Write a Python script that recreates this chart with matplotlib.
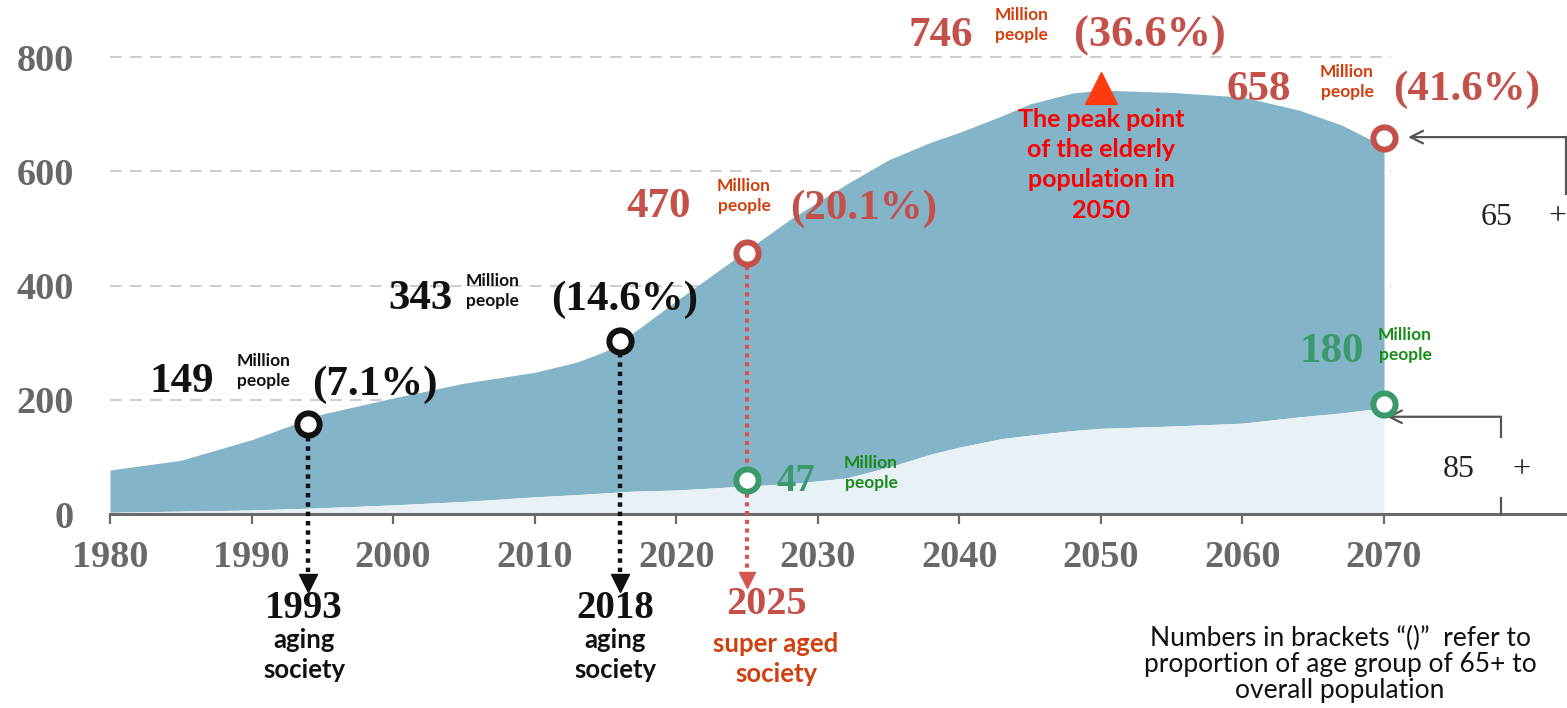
import matplotlib
matplotlib.use("Agg")
import matplotlib.pyplot as plt

# ---------------- data ----------------
years = [1980, 1985, 1990, 1995, 2000, 2005, 2010, 2013, 2015, 2017, 2020,
         2025, 2028, 2032, 2035, 2038, 2040, 2043, 2045, 2048, 2050, 2055,
         2060, 2064, 2067, 2069, 2070]
pop_65 = [77, 94, 130, 175, 203, 229, 248, 266, 285, 318, 373,
          462, 515, 577, 620, 651, 668, 697, 718, 737, 742, 738,
          730, 707, 681, 656, 634]
pop_85 = [3, 5, 7, 11, 16, 22, 30, 34, 37, 40, 42,
          49, 53, 63, 82, 105, 117, 132, 138, 146, 150, 154,
          159, 170, 177, 183, 185]

x_ticks = [1980, 1990, 2000, 2010, 2020, 2030, 2040, 2050, 2060, 2070]
y_ticks = [0, 200, 400, 600, 800]

aging_pos_year = [1994, 2016]
aging_pos_val = [157, 303]
aging_value_labels = ["149", "343"]
aging_pct_labels = ["(7.1%)", "(14.6%)"]
aging_event_years = ["1993", "2018"]

super_year = 2025
super_val65 = 457
super_val85 = 59
super_value_label = "470"
super_pct_label = "(20.1%)"
super_85_label = "47"

peak_year = 2050
peak_val = 746
peak_pct_label = "(36.6%)"

end_year = 2070
end_val65 = 658
end_val85 = 193
end_pct_label = "(41.6%)"
end_85_label = "180"

# ---------------- style ----------------
SERIF = "Liberation Serif"
SANS = "Lato"
C_TOP = "#84b4c8"
C_LOW = "#e8f1f5"
C_BLACK = "#111111"
C_RED = "#c4504a"
C_ORANGE = "#d0400e"
C_GREEN = "#3a9a6c"
C_GREEN2 = "#1a8c1a"
C_AXIS = "#6a6a6a"

fig = plt.figure(figsize=(15.67, 7.08), dpi=100)
ax = fig.add_axes([110 / 1567, (708 - 514) / 708, 1457 / 1567, 514 / 708])
ax.set_xlim(1980, 1980 + 1457 / 14.156)
ax.set_ylim(0, 514 / 0.57125)

for s in ["left", "top", "right"]:
    ax.spines[s].set_visible(False)
ax.spines["bottom"].set_color(C_AXIS)
ax.spines["bottom"].set_linewidth(2.2)
ax.spines["bottom"].set_zorder(3)

ax.hlines(y_ticks[1:], 1980, 2070.5, colors="#c4c4c4", linewidth=1.2,
          linestyles=(0, (7, 5)), zorder=0.5)

ax.fill_between(years, pop_85, pop_65, color=C_TOP, linewidth=0, zorder=1)
ax.fill_between(years, 0, pop_85, color=C_LOW, linewidth=0, zorder=1)

ax.set_xticks(x_ticks)
ax.set_yticks(y_ticks)
ax.set_xticklabels([str(v) for v in x_ticks])
ax.set_yticklabels([str(v) for v in y_ticks])
ax.tick_params(axis="x", length=7, width=1.6, color=C_AXIS, pad=12)
ax.tick_params(axis="y", length=0, pad=26)
for lab_ in ax.get_xticklabels() + ax.get_yticklabels():
    lab_.set_fontfamily(SERIF)
    lab_.set_fontweight("bold")
    lab_.set_fontsize(27.5)
    lab_.set_color("#686868")


def txt(x, y, dx, dy, s, **kw):
    kw.setdefault("ha", "center")
    kw.setdefault("va", "center")
    ax.annotate(s, (x, y), xytext=(dx, dy), textcoords="offset pixels",
                annotation_clip=False, zorder=6, **kw)


big = dict(family=SERIF, fontweight="bold", fontsize=31)
mp = dict(family=SANS, fontweight="bold", fontsize=12.5, linespacing=1.3)
ring = dict(marker="o", markersize=16, markeredgewidth=4.3,
            markerfacecolor="white", linestyle="none", zorder=5, clip_on=False)
GREY = "#555555"

# ---- aging society milestones (black) ----
for i, (yr, v) in enumerate(zip(aging_pos_year, aging_pos_val)):
    ax.plot([yr, yr], [v - 22, -108], color=C_BLACK, linewidth=3.2,
            linestyle=(0, (1, 1.1)), zorder=4, clip_on=False)
    ax.plot([yr], [-121], marker="v", markersize=13, color=C_BLACK,
            linestyle="none", zorder=4, clip_on=False)
    ax.plot([yr], [v], markeredgecolor=C_BLACK, **ring)
    txt(yr, 0, -4, -94, aging_event_years[i], color=C_BLACK,
        family=SERIF, fontweight="bold", fontsize=28)
    txt(yr, 0, -4, -141, "aging\nsociety", color=C_BLACK, family=SANS,
        fontweight="bold", fontsize=18.5, linespacing=1.3)

# 149
txt(aging_pos_year[0], aging_pos_val[0], -126, 42, aging_value_labels[0], color=C_BLACK, **big)
txt(aging_pos_year[0], aging_pos_val[0], -45, 53, "Million\npeople", color=C_BLACK, **mp)
txt(aging_pos_year[0], aging_pos_val[0], 67, 40, aging_pct_labels[0], color=C_BLACK, **big)
# 343
txt(aging_pos_year[1], aging_pos_val[1], -199, 42, aging_value_labels[1], color=C_BLACK, **big)
txt(aging_pos_year[1], aging_pos_val[1], -127, 50, "Million\npeople", color=C_BLACK, **mp)
txt(aging_pos_year[1], aging_pos_val[1], 5, 41, aging_pct_labels[1], color=C_BLACK, **big)

# ---- super aged society (2025) ----
ax.plot([super_year, super_year], [super_val65 - 22, -102], color="#d65550",
        linewidth=3.0, linestyle=(0, (1, 1.1)), zorder=4, clip_on=False)
ax.plot([super_year], [-115], marker="v", markersize=12, color="#d65550",
        linestyle="none", zorder=4, clip_on=False)
ax.plot([super_year], [super_val65], markeredgecolor=C_RED, **ring)
ax.plot([super_year], [super_val85], markeredgecolor=C_GREEN, **ring)
txt(super_year, super_val65, -88, 46, super_value_label, color=C_RED, **big)
txt(super_year, super_val65, -3, 57, "Million\npeople", color=C_ORANGE, **mp)
txt(super_year, super_val65, 117, 44, super_pct_label, color=C_RED, **big)
txt(super_year, super_val85, 49, -1, super_85_label, color=C_GREEN,
    family=SERIF, fontweight="bold", fontsize=28)
txt(super_year, super_val85, 124, 7, "Million\npeople", color=C_GREEN2, **mp)
txt(super_year, 0, 20, -91, "2025", color=C_RED, family=SERIF,
    fontweight="bold", fontsize=29)
txt(super_year, 0, 29, -145, "super aged\nsociety", color=C_ORANGE, family=SANS,
    fontweight="bold", fontsize=18.5, linespacing=1.25)

# ---- peak (2050) ----
ax.plot([peak_year], [peak_val], marker="^", markersize=23, color="#ff3a10",
        linestyle="none", zorder=5, clip_on=False)
txt(peak_year, peak_val, -160, 52, "746", color=C_RED, **big)
txt(peak_year, peak_val, -79, 63, "Million\npeople", color=C_ORANGE, **mp)
txt(peak_year, peak_val, 49, 52, peak_pct_label, color=C_RED,
    family=SERIF, fontweight="bold", fontsize=32)
txt(peak_year, peak_val, 0, -77, "The peak point\nof the elderly\npopulation in\n2050",
    color="#ff0000", family=SANS, fontweight="bold", fontsize=18, linespacing=1.38)

# ---- 2070 ----
ax.plot([end_year], [end_val65], markeredgecolor=C_RED, **ring)
ax.plot([end_year], [end_val85], markeredgecolor=C_GREEN, **ring)
txt(end_year, end_val65, -125, 48, "658", color=C_RED, **big)
txt(end_year, end_val65, -37, 56, "Million\npeople", color=C_ORANGE, **mp)
txt(end_year, end_val65, 83, 48, end_pct_label, color=C_RED, **big)
txt(end_year, end_val85, -52, 52, end_85_label, color=C_GREEN, **big)
txt(end_year, end_val85, 21, 59, "Million\npeople", color=C_GREEN2, **mp)

# ---- right-side brackets ----
arr = dict(arrowstyle="->,head_length=0.9,head_width=0.45", color=GREY, lw=1.6)
inv = ax.transData.inverted()

p65 = ax.transData.transform((end_year, end_val65))
x65a, y65 = inv.transform((p65[0] + 24, p65[1] + 1))
x65b, _ = inv.transform((p65[0] + 184, p65[1] + 1))
_, y65b = inv.transform((p65[0] + 184, p65[1] - 56))
ax.annotate("", xy=(x65a, y65), xytext=(x65b, y65),
            arrowprops=dict(shrinkA=0, shrinkB=0, **arr), annotation_clip=False)
ax.plot([x65b - 0.15, x65b - 0.15], [y65, y65b], color=GREY, lw=1.6, clip_on=False, zorder=4)
txt(end_year, end_val65, 113, -79, "65", color="#222222", family=SERIF, fontsize=23)
txt(end_year, end_val65, 173, -79, "+", color="#222222", family=SERIF, fontsize=23)

p85 = ax.transData.transform((end_year, end_val85))
x85, y85 = inv.transform((p85[0] + 117, p85[1] - 13))
_, y85b = inv.transform((p85[0] + 117, p85[1] - 33))
ax.annotate("", xy=(end_year + 0.2, y85), xytext=(x85, y85),
            arrowprops=dict(shrinkA=0, shrinkB=0, **arr), annotation_clip=False)
ax.plot([x85, x85], [y85, y85b], color=GREY, lw=1.6, clip_on=False, zorder=4)
ax.plot([x85, x85], [0, 28], color=GREY, lw=1.6, clip_on=False, zorder=4)
txt(end_year, end_val85, 75, -66, "85", color="#222222", family=SERIF, fontsize=23)
txt(end_year, end_val85, 137, -66, "+", color="#222222", family=SERIF, fontsize=23)

fig.text(1340 / 1567, 1 - 664 / 708,
         "Numbers in brackets \u201c()\u201d  refer to\nproportion of age group of 65+ to\noverall population",
         ha="center", va="center", family=SANS, fontsize=19, color="#111111",
         linespacing=1.05)

fig.savefig("out.png", dpi=100)
